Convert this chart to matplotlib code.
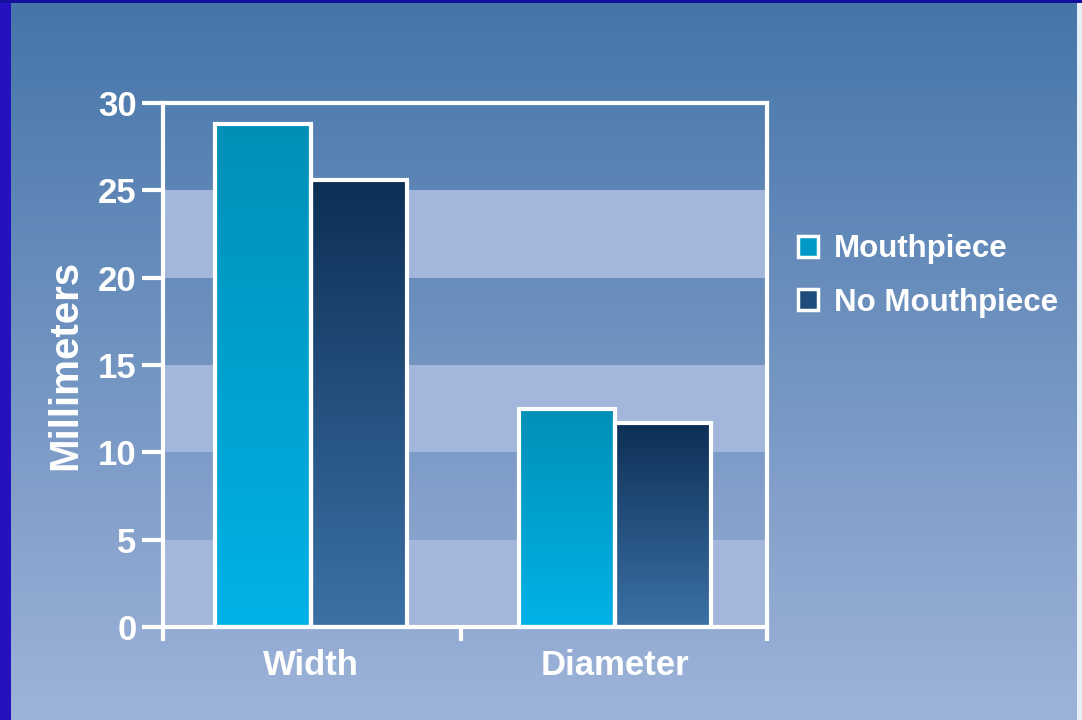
import numpy as np
import matplotlib.pyplot as plt
from matplotlib.colors import LinearSegmentedColormap
from matplotlib.patches import Patch, Rectangle

categories = ["Width", "Diameter"]
series_names = ["Mouthpiece", "No Mouthpiece"]
mouthpiece = [28.8, 12.5]
no_mouthpiece = [25.6, 11.7]
yticks = [0, 5, 10, 15, 20, 25, 30]

plt.rcParams['font.family'] = ['Liberation Sans', 'DejaVu Sans']
plt.rcParams['font.weight'] = 'bold'

fig = plt.figure(figsize=(10.82, 7.2), dpi=100)

# background gradient over the whole figure
bg = fig.add_axes([0, 0, 1, 1], zorder=-10)
bg_cmap = LinearSegmentedColormap.from_list("bg", ["#4575a9", "#9eb3d9"])
bg.imshow(np.linspace(0, 1, 256).reshape(-1, 1), cmap=bg_cmap, aspect='auto',
          extent=[0, 1, 0, 1], origin='upper')
bg.set_xlim(0, 1)
bg.set_ylim(0, 1)
bg.add_patch(Rectangle((0, 0), 11 / 1082, 1, color="#2412bf", lw=0))
bg.add_patch(Rectangle((0, 1 - 3 / 720), 1, 3 / 720, color="#13109c", lw=0))
bg.add_patch(Rectangle((1 - 5 / 1082, 0), 5 / 1082, 1 - 3 / 720, color="#e8eef6", lw=0))
bg.axis('off')

ax = fig.add_axes([163 / 1082, 93 / 720, 604 / 1082, 524 / 720])
ax.set_facecolor('none')

# light bands
for lo in (0, 10, 20):
    ax.axhspan(lo, lo + 5, color="#a2b7db", lw=0, zorder=0)

cmap_mp = LinearSegmentedColormap.from_list("mp", ["#00b2e8", "#0090b6"])
cmap_nmp = LinearSegmentedColormap.from_list("nmp", ["#3c71a6", "#0c2f55"])

x = np.arange(len(categories))
w = 0.316
grad = np.linspace(0, 1, 256).reshape(-1, 1)
for xi, h1, h2 in zip(x, mouthpiece, no_mouthpiece):
    for x0, h, cm in ((xi - w, h1, cmap_mp), (xi, h2, cmap_nmp)):
        ax.imshow(grad, cmap=cm, aspect='auto', origin='lower',
                  extent=[x0, x0 + w, 0, h], zorder=2)
        ax.add_patch(Rectangle((x0, 0), w, h, fill=False, ec='white', lw=3, zorder=3))

ax.set_xlim(-0.487, 1.5)
ax.set_ylim(0, 30)

for s in ax.spines.values():
    s.set_color('white')
    s.set_linewidth(3)
    s.set_zorder(4)

ax.set_yticks(yticks)
ax.set_yticklabels([str(t) for t in yticks])
ax.tick_params(axis='y', colors='white', labelcolor='white', length=15, width=3,
               labelsize=25, pad=4)
ax.set_xticks([-0.487, 0.493, 1.5])
ax.set_xticklabels([])
ax.tick_params(axis='x', colors='white', length=10, width=3)
for xi, c in zip(x, categories):
    ax.text(xi, -2.2, c, ha='center', va='center', color='white', fontsize=25,
            fontweight='bold', clip_on=False)

ax.set_ylabel("Millimeters", color='white', fontsize=29, fontweight='bold', labelpad=10)

handles = [Patch(facecolor="#0098c6", edgecolor='white', lw=2.5),
           Patch(facecolor="#1e4d7c", edgecolor='white', lw=2.5)]
fig.legend(handles, series_names, loc='center left', bbox_to_anchor=(770 / 1082, 1 - 276 / 720),
           frameon=False, fontsize=22.5, labelcolor='white', handlelength=0.65, handleheight=0.65,
           handletextpad=0.5, labelspacing=0.75)

fig.savefig("out.png", dpi=100)
